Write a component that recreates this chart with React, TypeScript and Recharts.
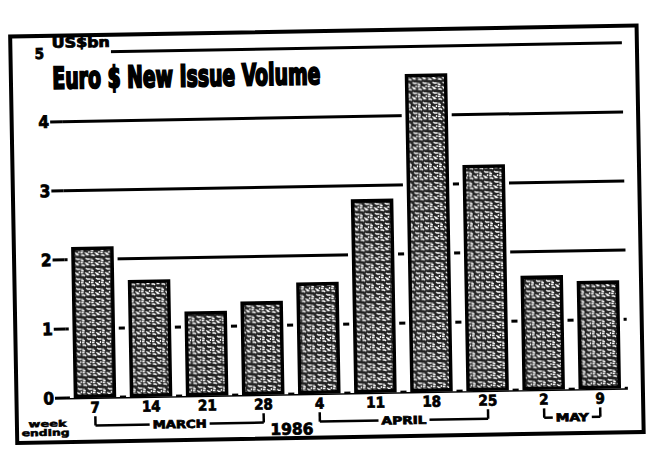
import React from "react"
import { BarChart, Bar, XAxis, YAxis, CartesianGrid, ReferenceLine } from "recharts"

// week ending, 1986
const weeks = ["7", "14", "21", "28", "4", "11", "18", "25", "2", "9"]
// US$bn
const volume = [2.18, 1.69, 1.22, 1.35, 1.61, 2.8, 4.6, 3.27, 1.65, 1.56]
const yTicks = [0, 1, 2, 3, 4, 5]
const months = [
  { name: "MARCH", first: "7", last: "28", width: 54 },
  { name: "APRIL", first: "4", last: "25", width: 45 },
  { name: "MAY", first: "2", last: "9", width: 33 },
]
const year = { label: "1986", from: "28", to: "4" }

const data = weeks.map((week, i) => ({ week, volume: volume[i] }))

const HEAVY = "'Liberation Sans Narrow', 'DejaVu Sans Condensed', 'Liberation Sans', Arial, sans-serif"

const StippleBar = (props: any) => {
  const { x, y, width, height } = props
  if (!height) return null
  return (
    <g>
      <rect x={x - 4} y={y - 4} width={width + 8} height={height + 4} fill="#fff" />
      <rect
        x={x + 1.5}
        y={y + 1.5}
        width={width - 3}
        height={height - 3}
        fill="url(#stipple)"
        stroke="#000"
        strokeWidth={3.5}
      />
    </g>
  )
}

const YTick = (props: any) => {
  const { x, y, payload } = props
  const top = payload.value === 5
  return (
    <g>
      {!top && <line x1={x - 12} x2={x} y1={y} y2={y} stroke="#000" strokeWidth={3} />}
      <text
        x={top ? x - 17 : x - 13}
        y={y + 6}
        textAnchor="end"
        fontFamily={HEAVY}
        fontWeight="bold"
        fontSize={top ? 15 : 17}
        fill="#000"
        stroke="#000"
        strokeWidth={0.8}
      >
        {payload.value}
      </text>
    </g>
  )
}

const XTick = (props: any) => {
  const { x, y, payload } = props
  return (
    <text
      x={x}
      y={y + 15}
      textAnchor="middle"
      fontFamily={HEAVY}
      fontWeight="bold"
      fontSize={15}
      fill="#000"
      stroke="#000"
      strokeWidth={0.7}
    >
      {payload.value}
    </text>
  )
}

const BracketLabel = (props: any) => {
  const { viewBox, text, w, size = 11, box = true } = props
  if (!viewBox) return null
  const cx = viewBox.x + viewBox.width / 2
  const cy = viewBox.y + viewBox.height / 2
  return (
    <g>
      {box && <rect x={cx - w / 2 - 3} y={cy - 6} width={w + 6} height={12} fill="#fff" />}
      <text
        x={cx - w / 2}
        y={cy + size * 0.37}
        textLength={w}
        lengthAdjust="spacingAndGlyphs"
        fontFamily={HEAVY}
        fontWeight="bold"
        fontSize={size}
        fill="#000"
        stroke="#000"
        strokeWidth={0.7}
      >
        {text}
      </text>
    </g>
  )
}

const LEG_TOP = -0.27
const LEG_BOTTOM = -0.405

export default function App() {
  return (
    <div style={{ position: "absolute", left: 0, top: 0, width: 651, height: 450, background: "#fff", overflow: "hidden" }}>
      <div style={{ position: "absolute", left: 0, top: 0, width: 651, height: 450, transform: "rotate(-1deg)", transformOrigin: "50% 50%" }}>
        <BarChart
          width={651}
          height={450}
          data={data}
          margin={{ top: 48, right: 26, bottom: 26.5, left: 0 }}
          barSize={42}
        >
          <defs>
            <pattern id="stipple" width={10} height={10} patternUnits="userSpaceOnUse">
              <rect width={10} height={10} fill="#222" />
              <path
                d="M0.5 1h2.5l1 1M5.5 0.5h3M1 4.5v2h2M5 4l1.5 1h3M0 8.5h2.5M4.5 8l1 1.5h2M8.5 7v2"
                stroke="#fff"
                strokeWidth={1.3}
                fill="none"
              />
            </pattern>
          </defs>
          <CartesianGrid vertical={false} stroke="#000" strokeWidth={3} />
          <XAxis
            dataKey="week"
            axisLine={false}
            tickLine={false}
            tickSize={0}
            tickMargin={0}
            height={30}
            interval={0}
            tick={<XTick />}
          />
          <YAxis
            type="number"
            domain={[0, 5]}
            ticks={yTicks}
            width={64}
            axisLine={false}
            tickLine={false}
            tickSize={0}
            tickMargin={0}
            tick={<YTick />}
          />
          <Bar dataKey="volume" isAnimationActive={false} shape={<StippleBar />} />
          {months.map((m) => (
            <ReferenceLine
              key={m.name + "-l"}
              ifOverflow="visible"
              stroke="#000"
              strokeWidth={2.5}
              segment={[{ x: m.first, y: LEG_TOP }, { x: m.first, y: LEG_BOTTOM }]}
            />
          ))}
          {months.map((m) => (
            <ReferenceLine
              key={m.name + "-r"}
              ifOverflow="visible"
              stroke="#000"
              strokeWidth={2.5}
              segment={[{ x: m.last, y: LEG_TOP }, { x: m.last, y: LEG_BOTTOM }]}
            />
          ))}
          {months.map((m) => (
            <ReferenceLine
              key={m.name + "-h"}
              ifOverflow="visible"
              stroke="#000"
              strokeWidth={2.5}
              segment={[{ x: m.first, y: LEG_BOTTOM }, { x: m.last, y: LEG_BOTTOM }]}
              label={<BracketLabel text={m.name} w={m.width} />}
            />
          ))}
          <ReferenceLine
            ifOverflow="visible"
            stroke="none"
            segment={[{ x: year.from, y: -0.5 }, { x: year.to, y: -0.5 }]}
            label={<BracketLabel text={year.label} w={43} size={16} box={false} />}
          />
        </BarChart>
        <svg width={651} height={450} style={{ position: "absolute", left: 0, top: 0, pointerEvents: "none" }}>
          <rect x={13.5} y={31} width={626.5} height={406.5} fill="none" stroke="#000" strokeWidth={4} />
          <rect x={62} y={43} width={52} height={9} fill="#fff" />
          <text
            x={55}
            y={43}
            textLength={58}
            lengthAdjust="spacingAndGlyphs"
            fontFamily={HEAVY}
            fontWeight="bold"
            fontSize={14}
            fill="#000"
            stroke="#000"
            strokeWidth={0.8}
          >
            US$bn
          </text>
          <text
            x={55}
            y={84}
            textLength={268}
            lengthAdjust="spacingAndGlyphs"
            fontFamily={HEAVY}
            fontWeight="bold"
            fontSize={30}
            fill="#000"
            stroke="#000"
            strokeWidth={2}
          >
            Euro $ New Issue Volume
          </text>
          <text x={25} y={422} textLength={38} lengthAdjust="spacingAndGlyphs" fontFamily={HEAVY} fontWeight="bold" fontSize={9} fill="#000" stroke="#000" strokeWidth={0.5}>
            week
          </text>
          <text x={18} y={431} textLength={48} lengthAdjust="spacingAndGlyphs" fontFamily={HEAVY} fontWeight="bold" fontSize={9} fill="#000" stroke="#000" strokeWidth={0.5}>
            ending
          </text>
        </svg>
      </div>
    </div>
  )
}
